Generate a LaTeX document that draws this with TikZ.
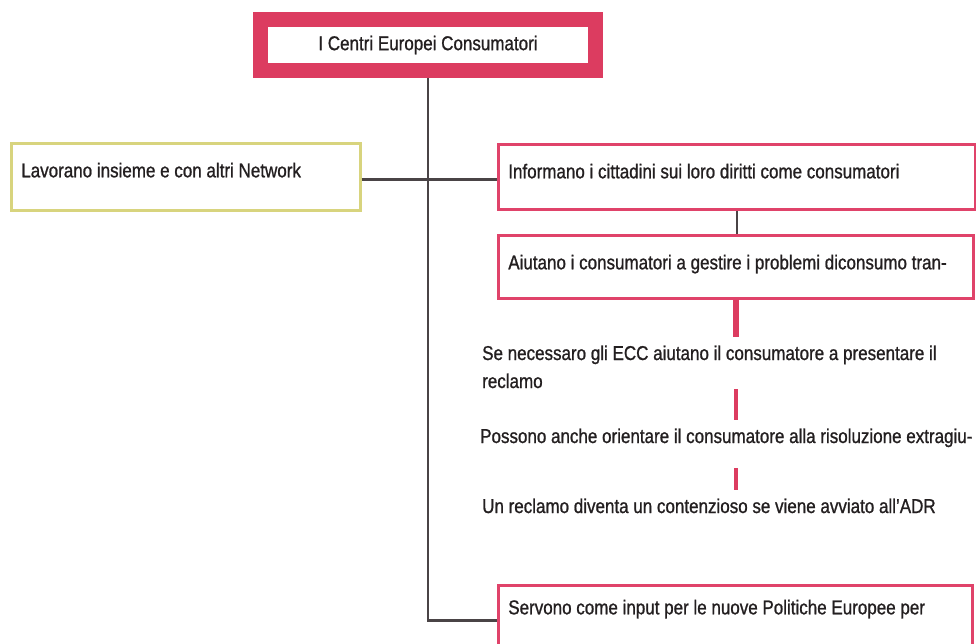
\documentclass[tikz,border=0pt]{standalone}
\usepackage{fontspec}
\setmainfont{Liberation Sans}[FakeStretch=0.85,FakeBold=1]
\usetikzlibrary{positioning}
\definecolor{eccpink}{HTML}{DC3C60}
\definecolor{boxpink}{HTML}{E0436A}
\definecolor{netolive}{HTML}{D8D47E}
\definecolor{linegray}{HTML}{4A4446}
\definecolor{inkgray}{HTML}{231F20}

\begin{document}
\begin{tikzpicture}[x=1pt,y=-1pt,
font=\fontsize{20}{28}\selectfont,
text=inkgray,
conn/.style={draw=linegray,line width=2.6pt},
link/.style={draw=eccpink,line width=3.6pt}
]
\useasboundingbox (0,0) rectangle (976,644);

\tikzstyle{hub} = [draw=eccpink, line width=15pt, minimum width=335pt, minimum height=51pt, inner sep=0pt]
\tikzstyle{pb} = [draw=boxpink, line width=2.6pt, anchor=north west, inner xsep=10pt, inner ysep=0pt, align=flush left, text height=34pt]
\tikzstyle{yb} = [pb, draw=netolive]
\tikzstyle{txt} = [anchor=base west, align=flush left, inner sep=0pt]

\node[hub] (ecc) at (428,45) {I Centri Europei Consumatori};
\node[yb, text width=329pt, text depth=33pt] (work) at (10,142) {Lavorano insieme e con altri Network};
\node[pb, text width=457pt, text depth=31pt] (inform) at (497,143) {Informano i cittadini sui loro diritti come consumatori};
\node[pb, text width=455pt, text depth=29pt] (assist) at (497,234) {Aiutano i consumatori a gestire i problemi diconsumo tran-};
\node[txt] (need) at (482,388) {Se necessaro gli ECC aiutano il consumatore a presentare il\\reclamo};
\node[txt] (orient) at (480,443) {Possono anche orientare il consumatore alla risoluzione extragiu-};
\node[txt] (adr) at (482,513) {Un reclamo diventa un contenzioso se viene avviato all’ADR};
\node[pb, text width=454pt, text height=29pt, text depth=41pt] (input) at (497,584) {Servono come input per le nuove Politiche Europee per};

% dark connectors
\draw[conn] (ecc.south) |- (input.west);
\draw[conn] ([yshift=-3pt]work.east) -- ([yshift=-3pt]inform.west);
\draw[conn] (inform.south) -- (inform.south |- assist.north);
% pink steps
\draw[link, line width=6pt, shorten >=8pt] (assist.south) -- (assist.south |- need.north);
\draw[link, shorten <=1pt, shorten >=8pt] (assist.south |- need.south) -- (assist.south |- orient.north);
\draw[link, shorten <=21pt, shorten >=8pt] (assist.south |- orient.south) -- (assist.south |- adr.north);
\end{tikzpicture}
\end{document}
